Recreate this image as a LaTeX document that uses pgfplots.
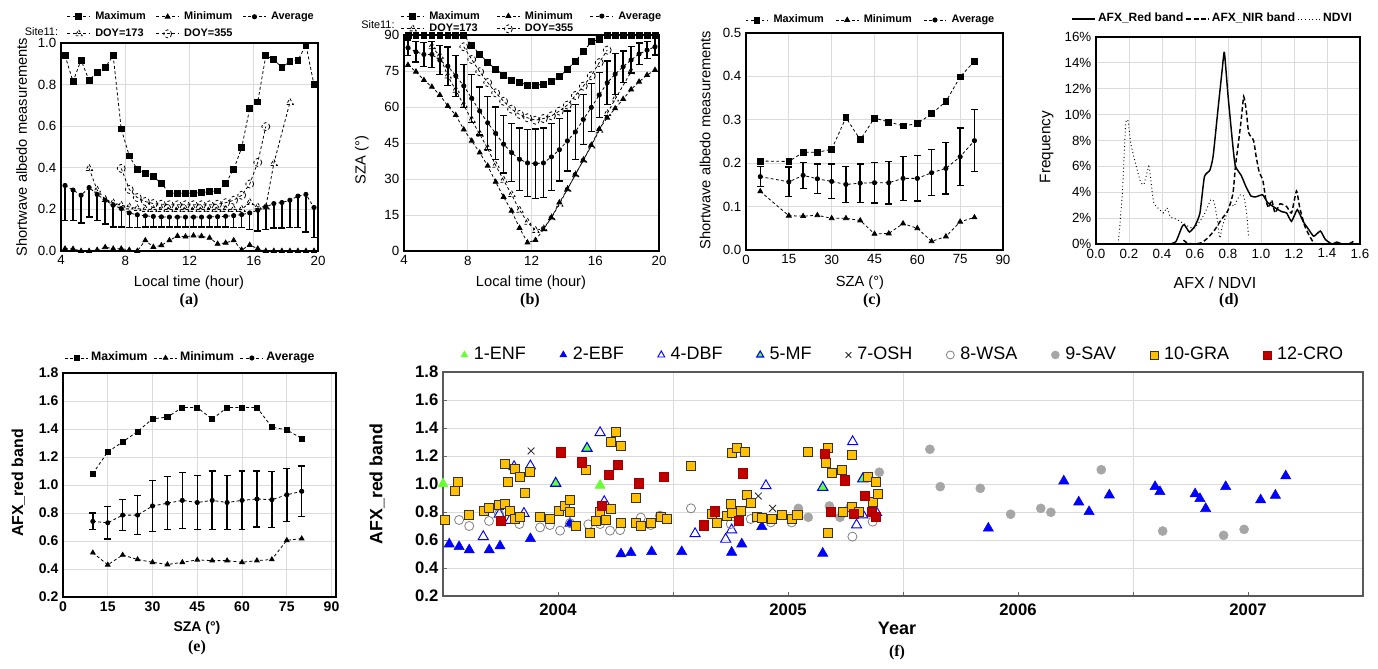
\documentclass[border=0pt]{standalone}
\usepackage{fontspec}
\setmainfont{Liberation Sans}
\newfontfamily\tnr{Liberation Serif}
\usepackage{pgfplots}
\pgfplotsset{compat=1.18}
\definecolor{enf}{RGB}{102,255,51}
\definecolor{ebf}{RGB}{0,0,255}
\definecolor{wsa}{RGB}{128,128,128}
\definecolor{sav}{RGB}{166,166,166}
\definecolor{gra}{RGB}{255,192,0}
\definecolor{cro}{RGB}{192,0,0}
\pgfplotsset{
  base/.style={scale only axis, anchor=south west, clip=false,
    /pgf/number format/assume math mode=true,
    major tick length=0pt, grid=major,
    grid style={black!14, line width=0.6pt},
    axis line style={black, line width=1.4pt},
    tick label style={black, font=\fontsize{10}{12}\selectfont},
    legend cell align=left,
    legend style={draw=none, fill=none, inner sep=0pt, outer sep=0pt,
      font=\bfseries\fontsize{8.2}{10}\selectfont,
      nodes={inner sep=0.6pt, text height=6pt, text depth=1.6pt},
      /tikz/every odd column/.append style={column sep=3pt}},
  },
  dl/.style={black, line width=0.6pt, dash pattern=on 2.2pt off 1.8pt, mark options={solid, black}},
  eb/.style={error bars/.cd, y dir=#1, y explicit, error bar style={solid, black, line width=1.1pt}, error mark options={rotate=90, black, solid, mark size=2.6pt, line width=1pt}},
}
\begin{document}
\begin{tikzpicture}
\path[use as bounding box] (0,0) rectangle (1033.5pt,501pt);
% ---------------- (a)
\begin{axis}[base, at={(45.75pt,312.75pt)}, width=192.75pt, height=156pt,
  xmin=4, xmax=20, ymin=0, ymax=1, xtick={4,8,12,16,20}, ytick={0,0.2,0.4,0.6,0.8,1},
  yticklabel style={/pgf/number format/.cd, fixed, fixed zerofill, precision=1},
  legend columns=3,
  legend style={at={(0.505,1.085)}, anchor=center, row sep=4pt,
    /tikz/every even column/.append style={column sep=7pt}}]
\addplot[dl, mark=square*, mark size=2.2pt] table[row sep=\\]{x y\\
4.25 0.94\\ 4.75 0.815\\ 5.25 0.918\\ 5.75 0.82\\ 6.25 0.86\\ 6.75 0.883\\ 7.25 0.939\\ 7.75 0.587\\
8.25 0.457\\ 8.75 0.392\\ 9.25 0.375\\ 9.75 0.357\\ 10.25 0.325\\ 10.75 0.278\\ 11.25 0.278\\ 11.75 0.278\\
12.25 0.278\\ 12.75 0.281\\ 13.25 0.285\\ 13.75 0.289\\ 14.25 0.326\\ 14.75 0.392\\ 15.25 0.497\\ 15.75 0.686\\
16.25 0.717\\ 16.75 0.939\\ 17.25 0.92\\ 17.75 0.883\\ 18.25 0.91\\ 18.75 0.918\\ 19.25 0.99\\ 19.75 0.80\\};
\addlegendentry{Maximum}
\addplot[dl, mark=triangle*, mark size=2.1pt] table[row sep=\\]{x y\\
4.25 0.011\\ 4.75 0.01\\ 5.25 0.0\\ 5.75 0.0\\ 6.25 0.005\\ 6.75 0.018\\ 7.25 0.011\\ 7.75 0.011\\
8.25 0.005\\ 8.75 0.0\\ 9.25 0.051\\ 9.75 0.019\\ 10.25 0.027\\ 10.75 0.051\\ 11.25 0.072\\ 11.75 0.069\\
12.25 0.074\\ 12.75 0.071\\ 13.25 0.063\\ 13.75 0.034\\ 14.25 0.039\\ 14.75 0.051\\ 15.25 0.005\\ 15.75 0.029\\
16.25 0.011\\ 16.75 0\\ 17.25 0\\ 17.75 0\\ 18.25 0\\ 18.75 0\\ 19.25 0\\ 19.75 0\\};
\addlegendentry{Minimum}
\addplot[dl, mark=*, mark size=1.6pt, eb=minus] table[row sep=\\, x=x, y=y, y error=e]{x y e\\
4.25 0.315 0.167\\ 4.75 0.293 0.145\\ 5.25 0.268 0.133\\ 5.75 0.305 0.141\\ 6.25 0.272 0.124\\ 6.75 0.244 0.115\\
7.25 0.220 0.104\\ 7.75 0.204 0.088\\ 8.25 0.183 0.070\\ 8.75 0.174 0.061\\ 9.25 0.169 0.053\\ 9.75 0.166 0.050\\
10.25 0.164 0.048\\ 10.75 0.163 0.047\\ 11.25 0.163 0.047\\ 11.75 0.163 0.047\\ 12.25 0.163 0.047\\ 12.75 0.163 0.047\\
13.25 0.164 0.048\\ 13.75 0.165 0.049\\ 14.25 0.167 0.051\\ 14.75 0.170 0.056\\ 15.25 0.175 0.062\\ 15.75 0.183 0.080\\
16.25 0.196 0.100\\ 16.75 0.212 0.110\\ 17.25 0.228 0.118\\ 17.75 0.233 0.122\\ 18.25 0.244 0.131\\ 18.75 0.264 0.150\\
19.25 0.272 0.180\\ 19.75 0.209 0.145\\};
\addlegendentry{Average}
\addplot[dl, mark=triangle, mark size=3pt, mark options={fill=white}] table[row sep=\\]{x y\\
5.75 0.397\\ 6.25 0.293\\ 6.75 0.248\\ 7.25 0.232\\ 7.75 0.22\\ 8.25 0.212\\ 8.75 0.204\\ 9.25 0.2\\ 9.75 0.2\\
10.25 0.2\\ 10.75 0.2\\ 11.25 0.2\\ 11.75 0.2\\ 12.25 0.2\\ 12.75 0.2\\ 13.25 0.2\\ 13.75 0.2\\ 14.25 0.2\\ 14.75 0.2\\
15.25 0.2\\ 15.75 0.233\\ 16.25 0.212\\ 16.75 0.212\\ 17.25 0.421\\ 18.25 0.714\\};
\addlegendentry{DOY=173}
\addplot[dl, mark=o, mark size=3pt, mark options={fill=white}] table[row sep=\\]{x y\\
7.75 0.397\\ 8.25 0.296\\ 8.75 0.257\\ 9.25 0.238\\ 9.75 0.228\\ 10.25 0.225\\ 10.75 0.222\\ 11.25 0.222\\
11.75 0.222\\ 12.25 0.222\\ 12.75 0.222\\ 13.25 0.222\\ 13.75 0.225\\ 14.25 0.232\\ 14.75 0.244\\ 15.25 0.268\\
15.75 0.322\\ 16.25 0.426\\ 16.75 0.598\\};
\addlegendentry{DOY=355}
\end{axis}
% ---------------- (b)
\begin{axis}[base, at={(303pt,312.75pt)}, width=191.25pt, height=162pt,
  xmin=4, xmax=20, ymin=0, ymax=90, xtick={4,8,12,16,20}, ytick={0,15,30,45,60,75,90},
  legend columns=3,
  legend style={at={(0.5,1.058)}, anchor=center, row sep=0.8pt,
    /tikz/every even column/.append style={column sep=12pt}}]
\addplot[dl, mark=square*, mark size=2.2pt] table[row sep=\\]{x y\\
4.25 90\\ 4.75 90\\ 5.25 90\\ 5.75 90\\ 6.25 90\\ 6.75 90\\ 7.25 90\\ 7.75 90\\
8.25 85.7\\ 8.75 82\\ 9.25 78.6\\ 9.75 75.8\\ 10.25 73.3\\ 10.75 71.1\\ 11.25 70.2\\ 11.75 69.1\\
12.25 69.1\\ 12.75 69.5\\ 13.25 70.7\\ 13.75 72.6\\ 14.25 75.7\\ 14.75 79.1\\ 15.25 83\\ 15.75 87.2\\
16.25 88.2\\ 16.75 90\\ 17.25 90\\ 17.75 90\\ 18.25 90\\ 18.75 90\\ 19.25 90\\ 19.75 90\\};
\addlegendentry{Maximum}
\addplot[dl, mark=triangle*, mark size=2.1pt] table[row sep=\\]{x y\\
4.25 77.5\\ 4.75 74.7\\ 5.25 71.2\\ 5.75 68.4\\ 6.25 65\\ 6.75 60.4\\ 7.25 56.6\\ 7.75 50.6\\
8.25 45.9\\ 8.75 41\\ 9.25 35.5\\ 9.75 28.8\\ 10.25 22.5\\ 10.75 16.7\\ 11.25 9.6\\ 11.75 3.5\\
12.25 4.5\\ 12.75 9\\ 13.25 13.9\\ 13.75 20.2\\ 14.25 25.7\\ 14.75 31.8\\ 15.25 37.8\\ 15.75 44.1\\
16.25 50.8\\ 16.75 55.5\\ 17.25 59.4\\ 17.75 63.3\\ 18.25 67.3\\ 18.75 70.5\\ 19.25 73.3\\ 19.75 75.4\\};
\addlegendentry{Minimum}
\addplot[dl, mark=*, mark size=1.6pt, eb=both] table[row sep=\\, x=x, y=y, y error=e]{x y e\\
4.25 84.7 3.2\\ 4.75 83 4.2\\ 5.25 81.9 5\\ 5.75 81.9 5.5\\ 6.25 79.5 6\\ 6.75 77 8\\ 7.25 73 8.5\\ 7.75 68.8 9\\
8.25 63.6 10\\ 8.75 58.3 10\\ 9.25 53.4 11\\ 9.75 49 11\\ 10.25 44.5 12\\ 10.75 41 12\\ 11.25 38.2 13\\ 11.75 36.7 14\\
12.25 36.4 14.5\\ 12.75 36.7 14.5\\ 13.25 39.2 14\\ 13.75 42.2 13\\ 14.25 45.9 12.5\\ 14.75 49.6 11.5\\ 15.25 54.8 10.5\\ 15.75 59.8 10\\
16.25 65 9.5\\ 16.75 70.1 9\\ 17.25 73.7 8.5\\ 17.75 76.8 6.5\\ 18.25 79.6 5.5\\ 18.75 82.1 4.5\\ 19.25 83.7 3.5\\ 19.75 85.1 3.5\\};
\addlegendentry{Average}
\addplot[dl, mark=triangle, mark size=3pt, mark options={fill=white}] table[row sep=\\]{x y\\
5.75 85.1\\ 6.25 81.2\\ 6.75 72.9\\ 7.25 67\\ 7.75 60.8\\ 8.25 54.5\\ 8.75 48.7\\ 9.25 42.7\\ 9.75 35.7\\
10.25 29.5\\ 10.75 23.5\\ 11.25 17\\ 11.75 12\\ 12.25 8.6\\ 12.75 9.3\\ 13.25 13.9\\ 13.75 19.5\\ 14.25 25.7\\
14.75 31.8\\ 15.25 37.8\\ 15.75 43.8\\ 16.25 50.3\\ 16.75 57.3\\ 17.25 63.3\\ 18.25 74.7\\};
\addlegendentry{DOY=173}
\addplot[dl, mark=o, mark size=3pt, mark options={fill=white}] table[row sep=\\]{x y\\
7.75 85.1\\ 8.25 79.8\\ 8.75 74.7\\ 9.25 70.2\\ 9.75 65.9\\ 10.25 62.4\\ 10.75 59.1\\ 11.25 56.9\\ 11.75 55.5\\
12.25 54.5\\ 12.75 55.2\\ 13.25 56.3\\ 13.75 58.3\\ 14.25 60.8\\ 14.75 64.8\\ 15.25 68.7\\ 15.75 73\\ 16.25 78.5\\ 16.75 83.7\\};
\addlegendentry{DOY=355}
\end{axis}
% ---------------- (c)
\begin{axis}[base, at={(559.5pt,313.5pt)}, width=192.75pt, height=162.75pt,
  xmin=0, xmax=90, ymin=0, ymax=0.5, xtick={0,15,30,45,60,75,90}, ytick={0,0.1,0.2,0.3,0.4,0.5},
  yticklabel style={/pgf/number format/.cd, fixed, fixed zerofill, precision=1},
  legend columns=3,
  legend style={at={(0.483,1.06)}, anchor=center,
    /tikz/every even column/.append style={column sep=8pt}}]
\addplot[dl, mark=square*, mark size=2.2pt] table[row sep=\\]{x y\\
5 0.205\\ 15 0.204\\ 20 0.225\\ 25 0.225\\ 30 0.232\\ 35 0.305\\ 40 0.254\\ 45 0.304\\ 50 0.295\\
55 0.286\\ 60 0.291\\ 65 0.314\\ 70 0.342\\ 75 0.399\\ 80 0.435\\};
\addlegendentry{Maximum}
\addplot[dl, mark=triangle*, mark size=2.1pt] table[row sep=\\]{x y\\
5 0.135\\ 15 0.079\\ 20 0.078\\ 25 0.08\\ 30 0.073\\ 35 0.073\\ 40 0.068\\ 45 0.037\\ 50 0.038\\
55 0.061\\ 60 0.05\\ 65 0.02\\ 70 0.031\\ 75 0.065\\ 80 0.075\\};
\addlegendentry{Minimum}
\addplot[dl, mark=*, mark size=1.6pt, eb=both] table[row sep=\\, x=x, y=y, y error=e]{x y e\\
5 0.169 0.023\\ 15 0.157 0.034\\ 20 0.172 0.03\\ 25 0.164 0.034\\ 30 0.158 0.04\\ 35 0.151 0.042\\ 40 0.154 0.044\\
45 0.155 0.047\\ 50 0.155 0.049\\ 55 0.165 0.051\\ 60 0.165 0.052\\ 65 0.178 0.053\\ 70 0.188 0.059\\ 75 0.215 0.066\\ 80 0.252 0.071\\};
\addlegendentry{Average}
\end{axis}
% ---------------- (d)
\begin{axis}[base, at={(822pt,318pt)}, width=198pt, height=155.25pt,
  xmin=0, xmax=1.6, ymin=0, ymax=16, xtick={0,0.2,0.4,0.6,0.8,1,1.2,1.4,1.6}, ytick={0,2,4,6,8,10,12,14,16},
  xticklabel style={/pgf/number format/.cd, fixed, fixed zerofill, precision=1},
  yticklabel={\pgfmathprintnumber{\tick}\%},
  legend columns=3,
  legend style={at={(0.44,1.087)}, anchor=center, font=\bfseries\fontsize{9}{11}\selectfont,
    /tikz/every odd column/.append style={column sep=1pt},
    /tikz/every even column/.append style={column sep=1pt}}]
\addplot[black, line width=1.1pt, smooth, tension=0.3] table[row sep=\\]{x y\\
0.45 0\\ 0.485 0.2\\ 0.52 1.3\\ 0.535 1.5\\ 0.566 0.93\\ 0.60 1.4\\ 0.63 2.4\\ 0.657 5.2\\ 0.69 5.7\\ 0.71 6.8\\
0.74 10.5\\ 0.765 13.5\\ 0.778 14.8\\ 0.80 11.5\\ 0.83 7.5\\ 0.845 6.0\\ 0.88 5.3\\ 0.91 4.4\\ 0.94 3.7\\ 0.97 3.65\\
1.01 3.8\\ 1.04 3.2\\ 1.085 2.8\\ 1.125 2.5\\ 1.155 2.4\\ 1.185 1.75\\ 1.22 2.65\\ 1.255 1.75\\ 1.29 1.1\\ 1.32 0.6\\
1.36 1.0\\ 1.39 0.35\\ 1.43 0\\ 1.46 0.15\\ 1.49 0\\ 1.53 0\\ 1.56 0.2\\};
\addlegendentry{AFX\_Red band}
\addplot[black, line width=1.1pt, dash pattern=on 3.5pt off 2pt, smooth, tension=0.3] table[row sep=\\]{x y\\
0.53 0.3\\ 0.55 0.1\\ 0.59 0\\ 0.64 0.1\\ 0.68 0.5\\ 0.72 1.1\\ 0.76 1.9\\ 0.80 2.6\\ 0.83 3.9\\ 0.845 6.0\\
0.86 7.5\\ 0.88 9.6\\ 0.895 11.4\\ 0.91 10.4\\ 0.925 8.6\\ 0.955 8.0\\ 0.97 6.8\\ 0.99 5.5\\ 1.01 5.0\\ 1.03 3.4\\
1.045 2.8\\ 1.065 3.4\\ 1.085 2.4\\ 1.115 3.1\\ 1.155 2.9\\ 1.185 2.4\\ 1.215 4.1\\ 1.235 2.8\\ 1.265 1.4\\ 1.295 0.6\\
1.33 0\\ 1.45 0\\};
\addlegendentry{AFX\_NIR band}
\addplot[black, line width=0.7pt, dotted, smooth, tension=0.3] table[row sep=\\]{x y\\
0.135 0\\ 0.16 4\\ 0.18 9.3\\ 0.195 9.5\\ 0.21 7.8\\ 0.24 6.2\\ 0.27 4.8\\ 0.29 4.6\\ 0.32 6.0\\ 0.33 5.2\\
0.35 3.2\\ 0.39 2.6\\ 0.41 2.4\\ 0.43 2.8\\ 0.45 2.1\\ 0.49 1.9\\ 0.54 1.5\\ 0.59 1.2\\ 0.63 1.75\\ 0.66 2.4\\
0.695 3.4\\ 0.715 3.3\\ 0.735 1.9\\ 0.75 0.45\\ 0.765 1.35\\ 0.78 1.9\\ 0.795 2.4\\ 0.815 3.2\\ 0.835 2.9\\ 0.855 3.4\\
0.875 3.8\\ 0.895 3.7\\ 0.913 2.4\\ 0.925 0.45\\};
\addlegendentry{NDVI}
\end{axis}
% ---------------- (e)
\begin{axis}[base, at={(47.25pt,53.25pt)}, width=204.75pt, height=168pt,
  xmin=0, xmax=91.5, ymin=0.2, ymax=1.8, xtick={0,15,30,45,60,75,90}, ytick={0.2,0.4,0.6,0.8,1,1.2,1.4,1.6,1.8},
  tick label style={font=\bfseries\fontsize{10.5}{12}\selectfont},
  yticklabel style={/pgf/number format/.cd, fixed, fixed zerofill, precision=1},
  legend columns=3,
  legend style={at={(0.465,1.067)}, anchor=center, font=\bfseries\fontsize{9.2}{11}\selectfont,
    /tikz/every odd column/.append style={column sep=1.5pt},
    /tikz/every even column/.append style={column sep=4pt}}]
\addplot[dl, mark=square*, mark size=1.9pt] table[row sep=\\]{x y\\
10 1.082\\ 15 1.236\\ 20 1.308\\ 25 1.382\\ 30 1.473\\ 35 1.485\\ 40 1.554\\ 45 1.554\\ 50 1.47\\
55 1.554\\ 60 1.554\\ 65 1.554\\ 70 1.413\\ 75 1.394\\ 80 1.332\\};
\addlegendentry{Maximum}
\addplot[dl, mark=triangle*, mark size=2pt] table[row sep=\\]{x y\\
10 0.516\\ 15 0.43\\ 20 0.50\\ 25 0.468\\ 30 0.448\\ 35 0.432\\ 40 0.448\\ 45 0.465\\ 50 0.46\\
55 0.46\\ 60 0.448\\ 65 0.46\\ 70 0.468\\ 75 0.605\\ 80 0.617\\};
\addlegendentry{Minimum}
\addplot[dl, mark=*, mark size=1.6pt, eb=both] table[row sep=\\, x=x, y=y, y error=e]{x y e\\
10 0.74 0.06\\ 15 0.73 0.115\\ 20 0.785 0.11\\ 25 0.785 0.14\\ 30 0.85 0.18\\ 35 0.87 0.19\\ 40 0.89 0.2\\
45 0.875 0.195\\ 50 0.89 0.21\\ 55 0.875 0.195\\ 60 0.89 0.21\\ 65 0.9 0.2\\ 70 0.895 0.2\\ 75 0.93 0.19\\ 80 0.955 0.18\\};
\addlegendentry{Average}
\end{axis}
% ---------------- (f)
\begin{axis}[base, at={(332.25pt,54pt)}, width=690pt, height=168pt,
  xmin=2003.5, xmax=2007.5, ymin=0.2, ymax=1.8,
  xtick={2004,2005,2006,2007}, minor xtick={2004.5,2005.5,2006.5},
  ytick={0.2,0.4,0.6,0.8,1,1.2,1.4,1.6,1.8},
  grid=none, ymajorgrids, xminorgrids, minor grid style={black!14, line width=0.6pt},
  axis line style={black!65, line width=1pt},
  tick pos=left, tick align=inside, major tick length=3pt, minor tick length=3pt, tick style={black!60},
  tick label style={font=\bfseries\fontsize{12.5}{14}\selectfont},
  xticklabel style={/pgf/number format/1000 sep={}, yshift=-2pt},
  yticklabel style={/pgf/number format/.cd, fixed, fixed zerofill, precision=1},
  legend columns=9,
  legend image code/.code={\draw[#1, mark size=3pt] plot coordinates {(0cm,0cm)};},
  legend style={at={(0.5,1.076)}, anchor=center, font=\fontsize{13.5}{15}\selectfont,
    nodes={inner sep=1.5pt, text height=9.5pt, text depth=2.5pt},
    /tikz/every odd column/.append style={column sep=3pt},
    /tikz/every even column/.append style={column sep=24pt}}]
\addplot[only marks, mark=triangle*, mark size=4.4pt, mark options={fill=enf, draw=enf}] table[row sep=\\]{x y\\
2003.5 1.0\\ 2004.183 0.99\\};
\addlegendentry{1-ENF}
\addplot[only marks, mark=triangle*, mark size=4.4pt, mark options={fill=ebf, draw=ebf}] table[row sep=\\]{x y\\
2003.527 0.571\\ 2003.570 0.552\\ 2003.614 0.529\\ 2003.701 0.529\\ 2003.748 0.557\\ 2003.880 0.609\\
2004.052 0.719\\ 2004.274 0.500\\ 2004.317 0.509\\ 2004.407 0.516\\ 2004.538 0.516\\ 2004.755 0.512\\
2004.799 0.571\\ 2004.886 0.695\\ 2005.151 0.505\\ 2005.871 0.684\\ 2006.199 1.021\\ 2006.264 0.871\\
2006.309 0.802\\ 2006.397 0.921\\ 2006.596 0.981\\ 2006.617 0.945\\ 2006.770 0.929\\ 2006.791 0.895\\
2006.816 0.824\\ 2006.903 0.981\\ 2007.055 0.886\\ 2007.119 0.919\\ 2007.164 1.057\\};
\addlegendentry{2-EBF}
\addplot[only marks, mark=triangle, mark size=4.4pt, mark options={draw=ebf, line width=0.7pt}] table[row sep=\\]{x y\\
2003.675 0.624\\ 2003.745 0.785\\ 2003.791 0.74\\ 2003.809 1.124\\ 2003.852 0.79\\ 2003.880 1.129\\
2004.183 1.367\\ 2004.201 0.874\\ 2004.596 0.645\\ 2004.729 0.605\\ 2004.755 0.672\\ 2004.904 0.988\\
2005.281 1.302\\ 2005.298 0.707\\ 2005.325 0.779\\ 2005.385 0.796\\};
\addlegendentry{4-DBF}
\addplot[only marks, mark=triangle*, mark size=4.4pt, mark options={fill=enf, draw=ebf, line width=0.8pt}] table[row sep=\\]{x y\\
2003.99 1.005\\ 2004.126 1.255\\ 2005.151 0.976\\ 2005.325 1.036\\};
\addlegendentry{5-MF}
\addplot[only marks, mark=x, mark size=3.6pt, mark options={draw=black!85, line width=0.6pt}] table[row sep=\\]{x y\\
2003.883 1.236\\ 2004.871 0.914\\ 2004.933 0.826\\};
\addlegendentry{7-OSH}
\addplot[only marks, mark=o, mark size=3.4pt, mark options={draw=wsa, line width=0.6pt}] table[row sep=\\]{x y\\
2003.570 0.743\\ 2003.614 0.700\\ 2003.700 0.736\\ 2003.743 0.786\\ 2003.832 0.714\\ 2003.922 0.690\\
2003.965 0.707\\ 2004.009 0.667\\ 2004.052 0.72\\ 2004.132 0.712\\ 2004.183 0.714\\ 2004.226 0.667\\
2004.270 0.671\\ 2004.360 0.760\\ 2004.403 0.707\\ 2004.443 0.774\\ 2004.578 0.826\\ 2004.751 0.714\\
2004.838 0.750\\ 2004.925 0.726\\ 2005.016 0.726\\ 2005.280 0.624\\ 2005.368 0.731\\};
\addlegendentry{8-WSA}
\addplot[only marks, mark=*, mark size=3.4pt, mark options={fill=sav, draw=sav}] table[row sep=\\]{x y\\
2005.045 0.826\\ 2005.088 0.762\\ 2005.180 0.843\\ 2005.226 0.762\\ 2005.270 0.834\\ 2005.397 1.084\\
2005.617 1.248\\ 2005.662 0.981\\ 2005.836 0.969\\ 2005.968 0.784\\ 2006.099 0.826\\ 2006.143 0.798\\
2006.362 1.102\\ 2006.629 0.664\\ 2006.894 0.633\\ 2006.983 0.676\\};
\addlegendentry{9-SAV}
\addplot[only marks, mark=square*, mark size=3.4pt, mark options={fill=gra, draw=black!80, line width=0.7pt}] table[row sep=\\]{x y\\
2003.510 0.743\\ 2003.552 0.952\\ 2003.567 1.017\\ 2003.614 0.779\\ 2003.680 0.810\\ 2003.701 0.831\\
2003.745 0.850\\ 2003.770 1.143\\ 2003.770 0.857\\ 2003.784 1.012\\ 2003.791 0.810\\ 2003.813 1.107\\
2003.813 0.750\\ 2003.833 1.048\\ 2003.835 0.767\\ 2003.857 0.938\\ 2003.877 1.088\\ 2003.922 0.767\\
2003.965 0.750\\ 2004.006 0.807\\ 2004.030 0.845\\ 2004.052 0.886\\ 2004.052 0.802\\ 2004.077 0.702\\
2004.120 1.100\\ 2004.138 0.652\\ 2004.164 0.736\\ 2004.183 0.802\\ 2004.209 0.743\\ 2004.229 1.298\\
2004.229 0.824\\ 2004.252 1.374\\ 2004.273 1.274\\ 2004.273 0.724\\ 2004.338 0.898\\ 2004.338 0.724\\
2004.360 0.702\\ 2004.403 0.724\\ 2004.446 0.767\\ 2004.472 0.750\\ 2004.578 1.131\\ 2004.668 0.786\\
2004.690 0.719\\ 2004.736 0.774\\ 2004.751 0.857\\ 2004.755 0.790\\ 2004.755 1.219\\ 2004.777 1.255\\
2004.794 0.807\\ 2004.813 1.231\\ 2004.820 0.921\\ 2004.838 0.867\\ 2004.864 0.767\\ 2004.886 0.755\\
2004.929 0.750\\ 2004.973 0.779\\ 2005.016 0.750\\ 2005.041 0.779\\ 2005.086 1.231\\ 2005.164 1.148\\
2005.172 1.255\\ 2005.172 0.648\\ 2005.190 1.081\\ 2005.236 1.100\\ 2005.238 0.802\\ 2005.277 1.207\\
2005.280 0.834\\ 2005.309 0.802\\ 2005.349 1.048\\ 2005.368 0.874\\ 2005.383 1.017\\ 2005.393 0.926\\};
\addlegendentry{10-GRA}
\addplot[only marks, mark=square*, mark size=3.4pt, mark options={fill=cro, draw=cro!85!black, line width=0.5pt}] table[row sep=\\]{x y\\
2003.751 0.736\\ 2004.013 1.226\\ 2004.103 1.155\\ 2004.190 0.845\\ 2004.219 1.064\\ 2004.262 1.136\\
2004.352 1.005\\ 2004.461 1.048\\ 2004.636 0.705\\ 2004.680 0.805\\ 2004.788 0.736\\ 2004.803 1.076\\
2005.161 1.214\\ 2005.186 0.798\\ 2005.248 1.026\\ 2005.287 0.786\\ 2005.335 0.914\\ 2005.364 0.802\\
2005.381 0.767\\};
\addlegendentry{12-CRO}
\end{axis}
% ---------------- labels
\begin{scope}[every node/.style={inner sep=0pt, font=\fontsize{11}{13}\selectfont}]
\node at (141.75pt,288.75pt) {Local time (hour)};
\node[rotate=90] at (16.3pt,390.75pt) {Shortwave albedo measurements};
\node[font=\fontsize{8.2}{10}\selectfont] at (31.1pt,477pt) {Site11:};
\node at (398.25pt,288.75pt) {Local time (hour)};
\node[rotate=90] at (271.3pt,381pt) {SZA (°)};
\node[font=\fontsize{8.2}{10}\selectfont] at (283.5pt,482.25pt) {Site11:};
\node at (645pt,288.75pt) {SZA (°)};
\node[rotate=90] at (528.75pt,396pt) {Shortwave albedo measurements};
\node[font=\fontsize{12}{14}\selectfont] at (911.25pt,288.75pt) {AFX / NDVI};
\node[rotate=90, font=\fontsize{11.5}{13}\selectfont] at (785pt,390.75pt) {Frequency};
\node[font=\bfseries\fontsize{10.5}{12}\selectfont] at (147.75pt,30pt) {SZA (°)};
\node[rotate=90, font=\bfseries\fontsize{11.9}{13}\selectfont] at (13.7pt,138.75pt) {AFX\_red band};
\node[rotate=90, font=\bfseries\fontsize{13.3}{15}\selectfont] at (282.75pt,138pt) {AFX\_red band};
\node[font=\bfseries\fontsize{13.5}{15}\selectfont] at (672.75pt,30pt) {Year};
\end{scope}
\begin{scope}[every node/.style={inner sep=0pt, font=\tnr\bfseries\fontsize{12}{14}\selectfont}]
\node at (141.75pt,275.25pt) {(a)};
\node at (397.5pt,275.25pt) {(b)};
\node at (654pt,275.25pt) {(c)};
\node at (921.75pt,275.25pt) {(d)};
\node at (147.75pt,15pt) {(e)};
\node at (672.75pt,11.25pt) {(f)};
\end{scope}
\end{tikzpicture}
\end{document}
